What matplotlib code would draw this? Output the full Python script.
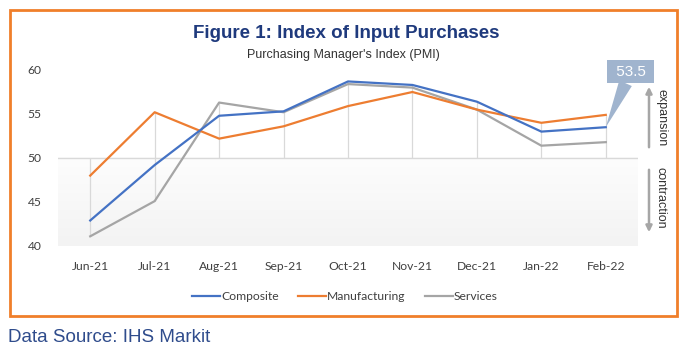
import matplotlib.pyplot as plt
import numpy as np
from matplotlib.patches import Rectangle
from matplotlib.colors import LinearSegmentedColormap

months = ['Jun-21', 'Jul-21', 'Aug-21', 'Sep-21', 'Oct-21', 'Nov-21', 'Dec-21', 'Jan-22', 'Feb-22']
composite = [42.9, 49.2, 54.8, 55.3, 58.7, 58.3, 56.4, 53.0, 53.5]
manufacturing = [48.0, 55.2, 52.2, 53.6, 55.9, 57.5, 55.5, 54.0, 54.9]
services = [41.1, 45.1, 56.3, 55.2, 58.4, 58.0, 55.5, 51.4, 51.8]
yticks = [40, 45, 50, 55, 60]

W, H = 690, 352
fig = plt.figure(figsize=(W / 100, H / 100), dpi=100)
fig.patch.set_facecolor('white')

# plot area in pixels: x 58-638, y 70-246
ax = fig.add_axes([58 / W, 1 - 246 / H, 580 / W, 176 / H])
x = np.arange(len(months))
ax.set_xlim(-0.5, len(months) - 0.5)
ax.set_ylim(40, 60)

# light gradient under the 50 line (contraction zone)
cmap = LinearSegmentedColormap.from_list('g', ['#fdfdfd', '#f3f3f3'])
grad = np.linspace(0, 1, 100).reshape(-1, 1)
ax.imshow(grad, extent=(-0.5, len(months) - 0.5, 40, 50), origin='upper',
          aspect='auto', cmap=cmap, zorder=0)

# high-low style lines through the 50 line
allv = np.array([composite, manufacturing, services])
lo = np.minimum(allv.min(axis=0), 50)
hi = np.maximum(allv.max(axis=0), 50)
ax.vlines(x, lo, hi, color='#d9d9d9', lw=0.9, zorder=1)
ax.axhline(50, color='#d9d9d9', lw=1.0, zorder=1)

ax.plot(x, composite, color='#4472c4', lw=1.6, label='Composite', zorder=4)
ax.plot(x, manufacturing, color='#ed7d31', lw=1.6, label='Manufacturing', zorder=3)
ax.plot(x, services, color='#a5a5a5', lw=1.6, label='Services', zorder=2)

for s in ax.spines.values():
    s.set_visible(False)
ax.set_xticks(x)
ax.set_xticklabels(months, fontsize=8.7, color='#404040', family='Lato')
ax.set_yticks(yticks)
ax.set_yticklabels([str(v) for v in yticks], fontsize=8.7, color='#404040', family='Lato')
ax.tick_params(length=0)
ax.tick_params(axis='x', pad=11)
ax.tick_params(axis='y', pad=12)

# callout on the last composite value
ax.annotate(f' {composite[-1]:.1f} ', xy=(x[-1], composite[-1]), xytext=(18, 40),
            textcoords='offset points', ha='center', va='center',
            fontsize=11, color='white', annotation_clip=False, zorder=6,
            family='Liberation Sans',
            bbox=dict(boxstyle='square,pad=0.3', fc='#a0b4ce', ec='none'),
            arrowprops=dict(arrowstyle='wedge,tail_width=0.9', fc='#a0b4ce', ec='none',
                            shrinkA=0, shrinkB=0))

# expansion / contraction arrows
ax.annotate('', xy=(649 / W, 1 - 84 / H), xytext=(649 / W, 1 - 150 / H),
            xycoords='figure fraction', textcoords='figure fraction',
            arrowprops=dict(arrowstyle='-|>', color='#a6a6a6', lw=1.8, mutation_scale=9))
ax.annotate('', xy=(649 / W, 1 - 235 / H), xytext=(649 / W, 1 - 167 / H),
            xycoords='figure fraction', textcoords='figure fraction',
            arrowprops=dict(arrowstyle='-|>', color='#a6a6a6', lw=1.8, mutation_scale=9))
fig.text(661 / W, 1 - 118 / H, 'expansion', rotation=270, ha='center', va='center',
         fontsize=9, color='#333333', family='Liberation Sans')
fig.text(661 / W, 1 - 198 / H, 'contraction', rotation=270, ha='center', va='center',
         fontsize=9, color='#333333', family='Liberation Sans')

# titles
fig.text(346 / W, 1 - 33 / H, 'Figure 1: Index of Input Purchases', ha='center', va='center',
         fontsize=13.5, fontweight='bold', color='#1f3a7d',
         family=['Liberation Sans Narrow', 'Liberation Sans'])
fig.text(343 / W, 1 - 55 / H, "Purchasing Manager's Index (PMI)", ha='center', va='center',
         fontsize=9, color='#333333', family=['Liberation Sans Narrow', 'Liberation Sans'])

leg = ax.legend(loc='center', bbox_to_anchor=(345 / W, 1 - 297 / H),
                bbox_transform=fig.transFigure, ncol=3, frameon=False,
                handlelength=2.3, columnspacing=1.6, handletextpad=0.1,
                prop={'family': 'Lato', 'size': 8.7})
for t in leg.get_texts():
    t.set_color('#404040')

# orange frame around chart
fig.patches.append(Rectangle((10 / W, 1 - 316 / H), 667 / W, 306 / H,
                             transform=fig.transFigure, fill=False,
                             ec='#f07f2a', lw=2))

fig.text(8 / W, 1 - 338 / H, 'Data Source: IHS Markit', ha='left', va='center',
         fontsize=13.5, color='#2f4c8c', family='Liberation Sans')

fig.savefig('out.png', dpi=100)
